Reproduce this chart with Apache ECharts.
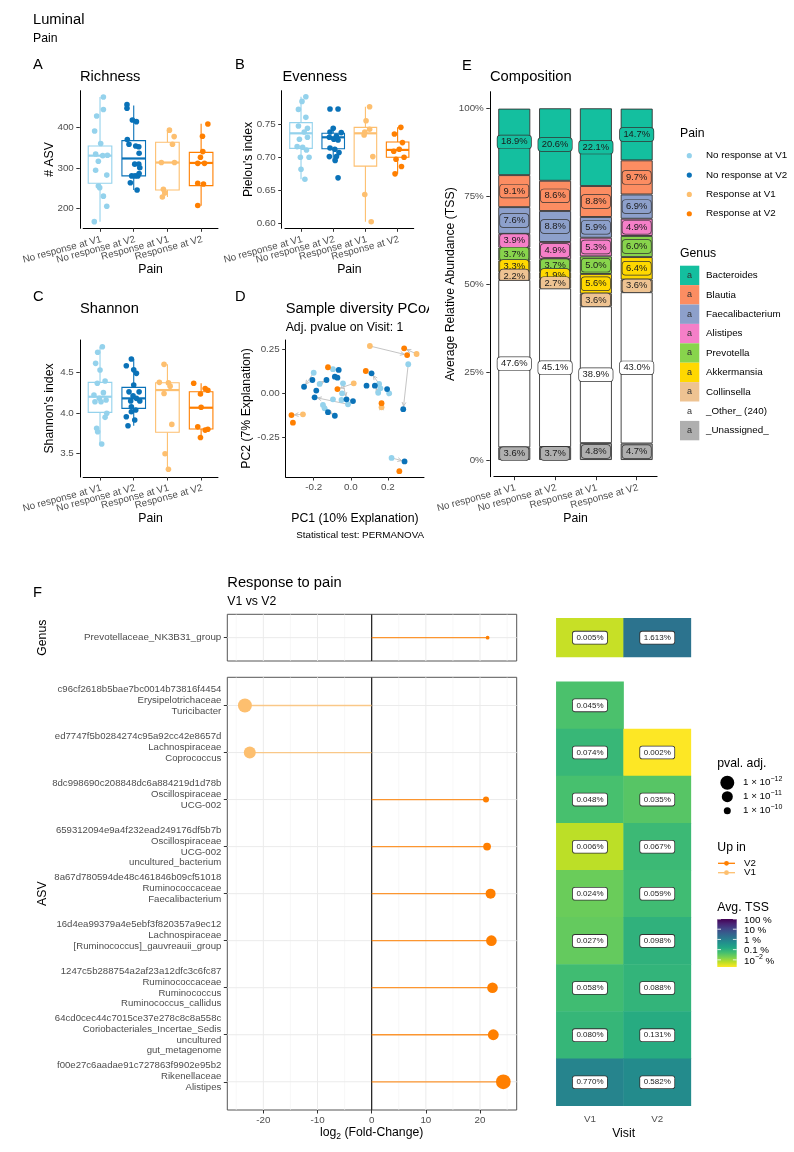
<!DOCTYPE html>
<html><head><meta charset="utf-8">
<script src="https://cdn.jsdelivr.net/npm/echarts@6.0.0/dist/echarts.min.js"></script>
<style>html,body{margin:0;padding:0;background:#fff}#c{width:794px;height:1152px}</style>
</head><body><div id="c"></div>
<script>
// ---------------- DATA ----------------
const painGroups = ['No response at V1','No response at V2','Response at V1','Response at V2'];

// boxplot stats: [lower whisker, Q1, median, Q3, upper whisker]
const richnessStats = [[167,262,330,354,475],[245,280,323,367,454],[228,245,313,363,393],[206,256,312,338,409]];
const richnessValues = [
  [475,444,428,391,360,334,330,331,316,294,282,255,251,230,205,167],
  [456,447,418,414,370,358,354,352,336,309,309,300,280,280,280,286,263,245],
  [393,377,358,313,313,247,238,228],
  [408,378,340,326,311,311,262,260,207]];
const richnessJitter = [
  [0.10,0.10,-0.10,-0.16,0.02,-0.13,0.08,0.22,-0.05,-0.13,0.20,-0.05,-0.01,0.10,0.20,-0.17],
  [-0.20,-0.20,-0.04,0.08,-0.19,-0.14,0.06,0.15,0.16,0.03,0.15,0.18,-0.06,0.04,0.12,0.16,-0.10,0.10],
  [0.06,0.20,0.15,-0.18,0.21,-0.12,-0.08,-0.15],
  [0.20,0.04,0.05,-0.02,-0.10,0.10,-0.10,0.07,-0.10]];

const evennessStats = [[0.667,0.7134,0.736,0.752,0.791],[0.695,0.7128,0.730,0.736,0.7435],[0.603,0.6867,0.736,0.745,0.776],[0.675,0.700,0.711,0.723,0.745]];
const evennessValues = [
  [0.791,0.784,0.772,0.760,0.747,0.7435,0.738,0.727,0.730,0.716,0.715,0.711,0.700,0.700,0.682,0.667],
  [0.7726,0.7726,0.7435,0.738,0.737,0.732,0.730,0.727,0.726,0.714,0.712,0.707,0.701,0.701,0.695,0.669],
  [0.776,0.755,0.742,0.738,0.7335,0.701,0.644,0.603],
  [0.745,0.735,0.722,0.712,0.709,0.700,0.697,0.686,0.675]];
const evennessJitter = [
  [0.15,0.03,-0.08,0.15,-0.08,0.20,0.10,-0.05,0.20,-0.12,0.05,0.17,-0.02,0.25,0.00,0.12],
  [-0.10,0.15,0.00,-0.10,0.25,0.10,-0.12,0.02,0.15,-0.10,0.05,0.18,-0.12,0.10,0.06,0.15],
  [0.13,0.02,0.13,-0.02,-0.04,0.23,-0.02,0.18],
  [0.10,-0.10,0.15,0.05,-0.12,0.20,-0.05,0.12,-0.08]];

const shannonStats = [[3.62,4.008,4.2,4.377,4.815],[3.844,4.057,4.18,4.315,4.663],[3.31,3.763,4.282,4.372,4.598],[3.70,3.803,4.065,4.262,4.365]];
const shannonValues = [
  [4.815,4.746,4.61,4.528,4.393,4.365,4.221,4.25,4.18,4.139,4.139,4.16,3.996,3.947,3.812,3.77,3.62],
  [4.663,4.58,4.487,4.53,4.344,4.26,4.26,4.21,4.18,4.147,4.147,4.077,4.037,4.016,3.955,3.914,3.844],
  [4.598,4.377,4.37,4.33,4.24,3.86,3.5,3.31],
  [4.365,4.30,4.28,4.233,4.07,3.83,3.79,3.80,3.70]];
const shannonJitter = [
  [0.07,-0.07,-0.13,0.00,0.15,-0.08,-0.18,0.10,-0.02,-0.15,0.03,0.18,0.20,0.15,-0.10,-0.07,0.05],
  [-0.07,-0.22,0.08,0.00,0.00,-0.14,0.16,-0.02,0.08,-0.09,0.18,-0.07,0.06,-0.07,-0.22,0.03,-0.17],
  [-0.10,-0.24,0.03,0.08,-0.10,0.13,-0.07,0.03],
  [-0.22,0.12,0.20,-0.02,0.00,-0.10,0.12,0.20,-0.02]];

// PCoA [PC1, PC2]
const pcoaNoRespV1 = [[-0.200,0.116],[-0.168,0.053],[-0.096,0.136],[-0.042,0.056],[-0.047,0.000],[-0.050,-0.038],[-0.096,-0.034],[-0.015,-0.062],[-0.150,-0.066],[-0.141,-0.085],[0.153,0.053],[0.160,0.028],[0.148,0.003],[0.207,0.000],[0.310,0.164],[0.220,-0.365]];
const pcoaNoRespV2 = [[-0.065,0.132],[-0.207,0.075],[-0.131,0.075],[-0.086,0.094],[-0.072,0.088],[-0.252,0.037],[-0.186,0.015],[-0.195,-0.023],[-0.023,-0.034],[0.012,-0.044],[-0.123,-0.107],[-0.086,-0.127],[0.112,0.113],[0.085,0.043],[0.130,0.043],[0.196,0.024],[0.283,-0.090],[0.290,-0.385]];
const pcoaRespV1 = [[0.103,0.267],[0.355,0.222],[0.016,0.056],[-0.258,-0.119],[0.166,-0.079]];
const pcoaRespV2 = [[0.288,0.254],[0.304,0.216],[-0.123,0.147],[-0.072,0.024],[-0.320,-0.123],[-0.312,-0.166],[0.081,0.126],[0.166,-0.056],[0.262,-0.440]];
// arrows V1 -> V2 : [x1, y1, x2, y2]
const pcoaArrows = [
  [0.103,0.267,0.304,0.216],[0.355,0.222,0.288,0.254],[0.310,0.164,0.283,-0.090],
  [-0.200,0.116,-0.252,0.037],[-0.096,0.136,-0.065,0.132],[0.016,0.056,-0.072,0.024],
  [-0.042,0.056,-0.023,-0.034],[-0.015,-0.062,-0.195,-0.023],[-0.258,-0.119,-0.320,-0.123],
  [0.166,-0.079,0.166,-0.056],[0.153,0.053,0.112,0.113],[0.207,0.000,0.196,0.024],
  [-0.150,-0.066,-0.123,-0.107],[-0.141,-0.085,-0.086,-0.127],[-0.168,0.053,-0.131,0.075],
  [0.148,0.003,0.130,0.043],[0.220,-0.365,0.290,-0.385]];
const pc1Ticks = [-0.2, 0, 0.2];
const pc2Ticks = [-0.25, 0, 0.25];

// Composition (%), legend order
const genera = ['Bacteroides','Blautia','Faecalibacterium','Alistipes','Prevotella','Akkermansia','Collinsella','_Other_ (240)','_Unassigned_'];
const composition = [
  [18.9,20.6,22.1,14.7],
  [9.1,8.6,8.8,9.7],
  [7.6,8.8,5.9,6.9],
  [3.9,4.9,5.3,4.9],
  [3.7,3.7,5.0,6.0],
  [3.3,1.9,5.6,6.4],
  [2.2,2.7,3.6,3.6],
  [47.6,45.1,38.9,43.0],
  [3.6,3.7,4.8,4.7]];
const pctTicks = [0,25,50,75,100];

// Differential abundance
const genusLabels = ['Prevotellaceae_NK3B31_group'];
const genusLog2FC = [21.4];
const genusUpIn = ['V2'];
const genusPadj = [3e-10];
const asvLabels = [
  'c96cf2618b5bae7bc0014b73816f4454\nErysipelotrichaceae\nTuricibacter\n ',
  'ed7747f5b0284274c95a92cc42e8657d\nLachnospiraceae\nCoprococcus\n ',
  '8dc998690c208848dc6a884219d1d78b\nOscillospiraceae\nUCG-002\n ',
  '659312094e9a4f232ead249176df5b7b\nOscillospiraceae\nUCG-002\nuncultured_bacterium',
  '8a67d780594de48c461846b09cf51018\nRuminococcaceae\nFaecalibacterium\n ',
  '16d4ea99379a4e5ebf3f820357a9ec12\nLachnospiraceae\n[Ruminococcus]_gauvreauii_group\n ',
  '1247c5b288754a2af23a12dfc3c6fc87\nRuminococcaceae\nRuminococcus\nRuminococcus_callidus',
  '64cd0cec44c7015ce37e278c8c8a558c\nCoriobacteriales_Incertae_Sedis\nuncultured\ngut_metagenome',
  'f00e27c6aadae91c727863f9902e95b2\nRikenellaceae\nAlistipes\n '];
const asvLog2FC = [-23.4,-22.5,21.1,21.3,21.95,22.1,22.3,22.45,24.3];
const asvUpIn = ['V1','V1','V2','V2','V2','V2','V2','V2','V2'];
const asvPadj = [1e-12,5e-12,1.5e-10,7e-11,2e-11,1.3e-11,1.3e-11,1.1e-11,5e-13];
const fcMajor = [-20,-10,0,10,20];
const fcMinor = [-25,-15,-5,5,15,25];
const visits = ['V1','V2'];
const heatGenus = [[0.005,1.613]];
const heatAsv = [[0.045,null],[0.074,0.002],[0.048,0.035],[0.006,0.067],[0.024,0.059],[0.027,0.098],[0.058,0.088],[0.080,0.131],[0.770,0.582]];
const padjLegend = [12, 11, 10];
const tssLegend = [2, 1, 0, -1, -2];

// ---------------- STYLE ----------------
const FONT = '"Liberation Sans", Arial, Helvetica, sans-serif';
const painColors = ['#94D2EC','#0A72B8','#FDBF6F','#FF7F00'];
const upColors = {V1:'#FDBF6F', V2:'#FF7F00'};
const genusColors = ['#14BF9F','#FC8D62','#8DA0CB','#F57FC8','#88D44C','#FFD800','#EEC392','#FFFFFF','#AFAFAF'];
const viridisRev = ['#FDE725','#BDDF26','#7AD151','#44BF70','#22A884','#21918C','#2A788E','#355F8D','#414487','#482475','#440154'];
const TSSMIN = -2.7, TSSMAX = 2;
const sz = L => Math.sqrt(Math.max(9, 49 + 73 * (L - 10)));

function txt(x, y, text, size, o) {
  o = o || {};
  const st = {text: text, font: size + 'px ' + FONT, fill: o.color || '#000',
    textAlign: o.align || 'left', align: o.align || 'left',
    textVerticalAlign: 'middle', verticalAlign: 'middle'};
  if (o.rich) st.rich = o.rich;
  return {type:'text', x: x, y: y, rotation: o.rot ? Math.PI/2 : 0, z: o.z || 100, silent: true, style: st};
}

function valAxis(gi, min, max, ticks, fmt, o) {
  o = o || {};
  const lab = {show: o.label !== false, customValues: ticks, formatter: fmt, color:'#4D4D4D',
    fontSize: o.fs || 9.8, fontFamily: FONT, margin: o.margin != null ? o.margin : 6,
    showMinLabel: true, showMaxLabel: true};
  if (o.lh) lab.lineHeight = o.lh;
  const ax = {type:'value', gridIndex: gi, min: min, max: max, inverse: !!o.inverse, scale: true,
    axisLine: {show: o.line !== false, onZero: false, lineStyle: {color:'#000', width: 1}},
    axisTick: {show: o.tick !== false, length: 3.5, customValues: ticks, lineStyle: {color:'#333', width: 1}},
    axisLabel: lab, splitLine: {show: false}, minorTick: {show:false}};
  if (o.offset) ax.offset = o.offset;
  return ax;
}
function catAxis(gi) {
  return {type:'category', gridIndex:gi, data:painGroups,
    axisLine:{show:true, onZero:false, lineStyle:{color:'#000', width:1}},
    axisTick:{show:true, alignWithLabel:true, length:3.5, lineStyle:{color:'#333', width:1}},
    axisLabel:{interval:0, rotate:15, align:'right', verticalAlign:'top', margin:6, color:'#4D4D4D', fontSize:9.8, fontFamily:FONT}};
}
function hiddenX(gi) { return {type:'value', gridIndex:gi, min:-0.5, max:3.5, show:false}; }

// band widths of the discrete axes (px per category)
const uA = 33.7, uB = 32.2, uE = 40.8;
const grids = [
  {left:79.8 + 0.1*uA, top:90.7, width:4*uA, height:137.6},
  {left:281.7 + 0.1*uB, top:90.7, width:4*uB, height:137.6},
  {left:79.8 + 0.1*uA, top:340, width:4*uA, height:137},
  {left:285.7, top:340, width:138.3, height:137},
  {left:489.8 + 0.1*uE, top:91.7, width:4*uE, height:385},
  {left:227.3, top:614.3, width:289.4, height:46.7, show:true, borderColor:'#555', borderWidth:1, backgroundColor:'rgba(0,0,0,0)'},
  {left:227.3, top:677.3, width:289.4, height:432.7, show:true, borderColor:'#555', borderWidth:1, backgroundColor:'rgba(0,0,0,0)'},
  {left:556.3, top:618.2, width:134.6, height:38.9},
  {left:556.3, top:681.8, width:134.6, height:424}
].map(g => Object.assign({containLabel:false, outerBoundsMode:'none'}, g));

const xAxes = [
  catAxis(0), catAxis(1), catAxis(2),
  valAxis(3, -0.351, 0.395, pc1Ticks, v => v.toFixed(1), {margin:5}),
  catAxis(4),
  valAxis(5, -26.65, 26.77, fcMajor, v => String(v), {label:false, tick:false, line:false}),
  valAxis(6, -26.65, 26.77, fcMajor, v => String(v), {line:false, margin:5}),
  {type:'category', gridIndex:7, data:visits, show:false},
  {type:'category', gridIndex:8, data:visits, axisLine:{show:false}, axisTick:{show:false},
    axisLabel:{color:'#4D4D4D', fontSize:9.8, fontFamily:FONT, margin:8}},
  hiddenX(0), hiddenX(1), hiddenX(2)
];
const yAxes = [
  valAxis(0, 150.6, 490.4, [200,300,400], v => String(v), {offset:0.1*uA}),
  valAxis(1, 0.5931, 0.8001, [0.60,0.65,0.70,0.75], v => v.toFixed(2), {offset:0.1*uB}),
  valAxis(2, 3.214, 4.897, [3.5,4.0,4.5], v => v.toFixed(1), {offset:0.1*uA}),
  valAxis(3, -0.473, 0.301, pc2Ticks, v => v.toFixed(2)),
  valAxis(4, -4.75, 104.72, pctTicks, v => v + '%', {offset:0.1*uE}),
  valAxis(5, 0.4, 1.6, [1], v => genusLabels[Math.round(v) - 1], {line:false}),
  valAxis(6, -0.6, 8.6, asvLabels.map((_, i) => i), v => asvLabels[Math.round(v)], {line:false, inverse:true, lh:10.7, fs:9.6}),
  {type:'category', gridIndex:7, data:['g'], show:false},
  {type:'category', gridIndex:8, data:asvLabels.map((_, i) => 'r' + i), inverse:true, show:false}
];

const series = [];

function boxPanel(gi, xi, stats, values, jitter) {
  series.push({
    type:'custom', xAxisIndex:xi, yAxisIndex:gi, z:2, silent:true, clip:false,
    data: stats.map((s, i) => [i].concat(s)),
    encode: {x:0, y:[1,2,3,4,5]},
    renderItem: (params, api) => {
      const i = api.value(0);
      const c = painColors[i];
      const lo = api.coord([i, api.value(1)]), q1 = api.coord([i, api.value(2)]),
            md = api.coord([i, api.value(3)]), q3 = api.coord([i, api.value(4)]), hi = api.coord([i, api.value(5)]);
      const w = api.size([0.7, 0])[0];
      const ls = {stroke:c, lineWidth:1.1, fill:null};
      return {type:'group', children:[
        {type:'line', shape:{x1:lo[0], y1:lo[1], x2:q1[0], y2:q1[1]}, style:ls},
        {type:'line', shape:{x1:q3[0], y1:q3[1], x2:hi[0], y2:hi[1]}, style:ls},
        {type:'rect', shape:{x:q1[0]-w/2, y:q3[1], width:w, height:q1[1]-q3[1]}, style:{stroke:c, lineWidth:1.1, fill:'#fff'}},
        {type:'line', shape:{x1:md[0]-w/2, y1:md[1], x2:md[0]+w/2, y2:md[1]}, style:{stroke:c, lineWidth:2.2}}
      ]};
    }
  });
  const pts = [];
  values.forEach((vals, i) => vals.forEach((v, k) => pts.push({value:[i + jitter[i][k], v], itemStyle:{color:painColors[i], opacity:1}})));
  series.push({type:'scatter', xAxisIndex:xi, yAxisIndex:gi, z:3, silent:true, symbolSize:5.6, data:pts});
}
boxPanel(0, 9, richnessStats, richnessValues, richnessJitter);
boxPanel(1, 10, evennessStats, evennessValues, evennessJitter);
boxPanel(2, 11, shannonStats, shannonValues, shannonJitter);

// PCoA arrows + points
series.push({
  type:'custom', xAxisIndex:3, yAxisIndex:3, z:2, silent:true, data:pcoaArrows,
  encode:{x:[0,2], y:[1,3]},
  renderItem: (params, api) => {
    const a = api.coord([api.value(0), api.value(1)]), b = api.coord([api.value(2), api.value(3)]);
    const dx = b[0]-a[0], dy = b[1]-a[1], L = Math.hypot(dx, dy) || 1, ux = dx/L, uy = dy/L;
    const tip = [b[0]-ux*3, b[1]-uy*3];
    const h = 4.5, ca = Math.cos(0.45), sa = Math.sin(0.45);
    const l1 = [tip[0]-h*(ux*ca-uy*sa), tip[1]-h*(uy*ca+ux*sa)];
    const l2 = [tip[0]-h*(ux*ca+uy*sa), tip[1]-h*(uy*ca-ux*sa)];
    const st = {stroke:'#BDBDBD', lineWidth:0.9, fill:null};
    return {type:'group', children:[
      {type:'line', shape:{x1:a[0], y1:a[1], x2:tip[0], y2:tip[1]}, style:st},
      {type:'polyline', shape:{points:[l1, tip, l2]}, style:st}
    ]};
  }
});
[pcoaNoRespV1, pcoaNoRespV2, pcoaRespV1, pcoaRespV2].forEach((d, i) => {
  series.push({type:'scatter', xAxisIndex:3, yAxisIndex:3, z:3, silent:true, symbolSize:5.8, data:d, itemStyle:{color:painColors[i], opacity:1}});
});

// Composition stacked bars (bottom to top)
[8,7,6,5,4,3,2,1,0].forEach((gIdx, k) => {
  series.push({
    type:'bar', xAxisIndex:4, yAxisIndex:4, stack:'comp', barWidth:32, z:20-k, silent:true,
    data: composition[gIdx].slice(),
    itemStyle:{color:genusColors[gIdx], borderColor:'#333', borderWidth:0.9},
    label:{show:true, position:'inside', formatter: p => Number(p.value).toFixed(1) + '%',
      fontSize:9.4, fontFamily:FONT, color:'#1a1a1a', backgroundColor:genusColors[gIdx],
      borderColor:'#333', borderWidth:0.7, borderRadius:3, padding:[1.5,3.5,1,3.5], lineHeight:10.5}
  });
});

// Lollipop panels
function gridLines(gi, rows) {
  const items = fcMajor.map(v => ({v:v, o:'v', c:'#EBEBEB', w:1}))
    .concat(fcMinor.map(v => ({v:v, o:'v', c:'#F4F4F4', w:0.6})))
    .concat(rows.map(r => ({v:r, o:'h', c:'#EBEBEB', w:1})));
  series.push({
    type:'custom', xAxisIndex:gi, yAxisIndex:gi, z:1, silent:true, clip:false,
    data: items.map((it, i) => [i]),
    renderItem: (params, api) => {
      const it = items[api.value(0)];
      const cs = params.coordSys;
      if (it.o === 'v') {
        const x = api.coord([it.v, rows[0]])[0];
        return {type:'line', shape:{x1:x, y1:cs.y, x2:x, y2:cs.y+cs.height}, style:{stroke:it.c, lineWidth:it.w}};
      }
      const y = api.coord([0, it.v])[1];
      return {type:'line', shape:{x1:cs.x, y1:y, x2:cs.x+cs.width, y2:y}, style:{stroke:it.c, lineWidth:it.w}};
    }
  });
  series.push({
    type:'custom', xAxisIndex:gi, yAxisIndex:gi, z:2, silent:true, clip:false, data:[[0]],
    renderItem: (params, api) => {
      const cs = params.coordSys;
      const x = api.coord([0, rows[0]])[0];
      return {type:'line', shape:{x1:x, y1:cs.y, x2:x, y2:cs.y+cs.height}, style:{stroke:'#1a1a1a', lineWidth:1.2}};
    }
  });
}
function lollipop(gi, fc, up, padj, rowOf) {
  series.push({
    type:'custom', xAxisIndex:gi, yAxisIndex:gi, z:3, silent:true,
    data: fc.map((v, i) => [v, rowOf(i), i]),
    encode:{x:0, y:1},
    renderItem: (params, api) => {
      const a = api.coord([0, api.value(1)]), b = api.coord([api.value(0), api.value(1)]);
      const c = upColors[up[api.value(2)]];
      return {type:'line', shape:{x1:a[0], y1:a[1], x2:b[0], y2:b[1]}, style:{stroke:c, lineWidth:1.3, opacity:0.8}};
    }
  });
  series.push({
    type:'scatter', xAxisIndex:gi, yAxisIndex:gi, z:4, silent:true,
    data: fc.map((v, i) => ({value:[v, rowOf(i), -Math.log10(padj[i])], itemStyle:{color:upColors[up[i]], opacity:1}})),
    symbolSize: val => sz(val[2])
  });
}
gridLines(5, [1]);
lollipop(5, genusLog2FC, genusUpIn, genusPadj, i => i + 1);
gridLines(6, asvLabels.map((_, i) => i));
lollipop(6, asvLog2FC, asvUpIn, asvPadj, i => i);

// Heatmaps
const heatLabel = (tbl) => ({show:true, formatter: p => tbl[p.value[1]][p.value[0]].toFixed(3) + '%',
  fontSize:8, fontFamily:FONT, color:'#222', backgroundColor:'#fff', borderColor:'#333',
  borderWidth:0.8, borderRadius:2, padding:[1.5,3.5,1,3.5], lineHeight:9.5});
const heatIdx = [];
heatIdx.push(series.length);
series.push({type:'heatmap', xAxisIndex:7, yAxisIndex:7, silent:true,
  data: heatGenus[0].map((v, j) => [j, 0, Math.log10(v)]), label: heatLabel(heatGenus), emphasis:{disabled:true}});
const heatData = [];
heatAsv.forEach((row, r) => row.forEach((v, j) => { if (v != null) heatData.push([j, r, Math.log10(v)]); }));
heatIdx.push(series.length);
series.push({type:'heatmap', xAxisIndex:8, yAxisIndex:8, silent:true, data: heatData, label: heatLabel(heatAsv), emphasis:{disabled:true}});

// ---------------- GRAPHIC (titles, legends) ----------------
const G = [];
G.push(txt(33, 20, 'Luminal', 14.7));
G.push(txt(33, 38.5, 'Pain', 12.25));
[['A',33,65],['B',235,65],['C',33,297],['D',235,297],['E',462,66],['F',33,593]].forEach(t => G.push(txt(t[1], t[2], t[0], 14.7)));
G.push(txt(80, 77, 'Richness', 14.7));
G.push(txt(282.5, 77, 'Evenness', 14.7));
G.push(txt(80, 309, 'Shannon', 14.7));
G.push(txt(285.7, 309, 'Sample diversity PCoA', 14.7, {z:40}));
G.push({type:'rect', shape:{x:429, y:298, width:12, height:22}, style:{fill:'#fff'}, z:45, silent:true});
G.push(txt(285.7, 327.7, 'Adj. pvalue on Visit: 1', 12.25));
G.push(txt(490, 77, 'Composition', 14.7));
G.push(txt(49.3, 159.5, '# ASV', 12.25, {rot:true, align:'center'}));
G.push(txt(248.3, 159.5, "Pielou's index", 12.25, {rot:true, align:'center'}));
G.push(txt(49.3, 408.5, "Shannon's index", 12.25, {rot:true, align:'center'}));
G.push(txt(246.7, 408.5, 'PC2 (7% Explanation)', 12.25, {rot:true, align:'center'}));
G.push(txt(451, 284.2, 'Average Relative Abundance (TSS)', 12.25, {rot:true, align:'center'}));
G.push(txt(150.5, 270, 'Pain', 12.25, {align:'center'}));
G.push(txt(349.4, 270, 'Pain', 12.25, {align:'center'}));
G.push(txt(150.5, 518.5, 'Pain', 12.25, {align:'center'}));
G.push(txt(354.9, 518.5, 'PC1 (10% Explanation)', 12.25, {align:'center'}));
G.push(txt(575.5, 518.5, 'Pain', 12.25, {align:'center'}));
G.push(txt(424, 535, 'Statistical test: PERMANOVA', 9.8, {align:'right'}));

// Pain legend
G.push(txt(680, 133.3, 'Pain', 12.25));
painGroups.forEach((g, i) => {
  const y = 155.7 + i * 19.35;
  G.push({type:'circle', shape:{cx:689.3, cy:y, r:2.6}, style:{fill:painColors[i]}, z:100, silent:true});
  G.push(txt(706, y, g, 9.8));
});
// Genus legend
G.push(txt(680, 253.3, 'Genus', 12.25));
genera.forEach((g, i) => {
  const y0 = 265.7 + i * 19.4;
  if (genusColors[i] !== '#FFFFFF') G.push({type:'rect', shape:{x:680, y:y0, width:19.3, height:19.4}, style:{fill:genusColors[i]}, z:100, silent:true});
  G.push(txt(689.6, y0 + 9.7, 'a', 9, {align:'center', color:'#333'}));
  G.push(txt(706, y0 + 9.7, g, 9.8));
});

// F titles
G.push(txt(227.3, 582.7, 'Response to pain', 14.7));
G.push(txt(227.3, 601.7, 'V1 vs V2', 12.25));
G.push(txt(42.7, 637.7, 'Genus', 12.25, {rot:true, align:'center'}));
G.push(txt(42.7, 893.7, 'ASV', 12.25, {rot:true, align:'center'}));
G.push(txt(371.65, 1133, '{n|log}{s|2}{n| (Fold-Change)}', 12.25, {align:'center', rich:{
  n:{fontSize:12.25, fontFamily:FONT, lineHeight:16, fill:'#000', color:'#000'},
  s:{fontSize:8.5, fontFamily:FONT, lineHeight:16, verticalAlign:'bottom', fill:'#000', color:'#000'}}}));
G.push(txt(623.6, 1134, 'Visit', 12.25, {align:'center'}));

// pval legend
G.push(txt(717.3, 763.3, 'pval. adj.', 12.25));
const supRich = {n:{fontSize:9.8, fontFamily:FONT, lineHeight:14, color:'#000'}, p:{fontSize:7, fontFamily:FONT, lineHeight:14, verticalAlign:'top', color:'#000'}};
padjLegend.forEach((L, i) => {
  const y = 782.7 + i * 14;
  G.push({type:'circle', shape:{cx:727.3, cy:y, r:sz(L)/2}, style:{fill:'#000'}, z:100, silent:true});
  G.push(txt(743, y, '{n|1 × 10}{p|\u2212' + L + '}', 9.8, {rich:supRich}));
});
// Up in legend
G.push(txt(717.3, 847.3, 'Up in', 12.25));
['V2','V1'].forEach((v, i) => {
  const y = 863.3 + i * 9.4;
  G.push({type:'line', shape:{x1:718, y1:y, x2:735, y2:y}, style:{stroke:upColors[v], lineWidth:1.3}, z:100, silent:true});
  G.push({type:'circle', shape:{cx:726.5, cy:y, r:2.4}, style:{fill:upColors[v]}, z:101, silent:true});
  G.push(txt(744, y, v, 9.8));
});
// Avg. TSS colour bar
G.push(txt(717.3, 908, 'Avg. TSS', 12.25));
G.push({type:'rect', shape:{x:717.3, y:919, width:19.4, height:48}, z:100, silent:true,
  style:{fill:{type:'linear', x:0, y:0, x2:0, y2:1, colorStops: viridisRev.slice().reverse().map((c, i, a) => ({offset:i/(a.length-1), color:c}))}}});
const tssLab = {2:'{n|100 %}', 1:'{n|10 %}', 0:'{n|1 %}', '-1':'{n|0.1 %}', '-2':'{n|10}{p|\u22122}{n| %}'};
tssLegend.forEach(L => {
  const y = 919 + (TSSMAX - L) / (TSSMAX - TSSMIN) * 48;
  G.push({type:'line', shape:{x1:717.3, y1:y, x2:721, y2:y}, style:{stroke:'#fff', lineWidth:0.8}, z:101, silent:true});
  G.push({type:'line', shape:{x1:732.9, y1:y, x2:736.7, y2:y}, style:{stroke:'#fff', lineWidth:0.8}, z:101, silent:true});
  G.push(txt(744, y + 1, tssLab[L], 9.8, {rich:supRich}));
});

const option = {
  animation:false,
  backgroundColor:'#fff',
  textStyle:{fontFamily:FONT},
  grid: grids,
  xAxis: xAxes,
  yAxis: yAxes,
  visualMap: [{type:'continuous', show:false, dimension:2, seriesIndex:heatIdx, min:TSSMIN, max:TSSMAX, inRange:{color:viridisRev}}],
  series: series,
  graphic: {elements: G}
};
const chart = echarts.init(document.getElementById('c'), null, {renderer:'canvas', width:794, height:1152});
chart.setOption(option);
</script></body></html>
